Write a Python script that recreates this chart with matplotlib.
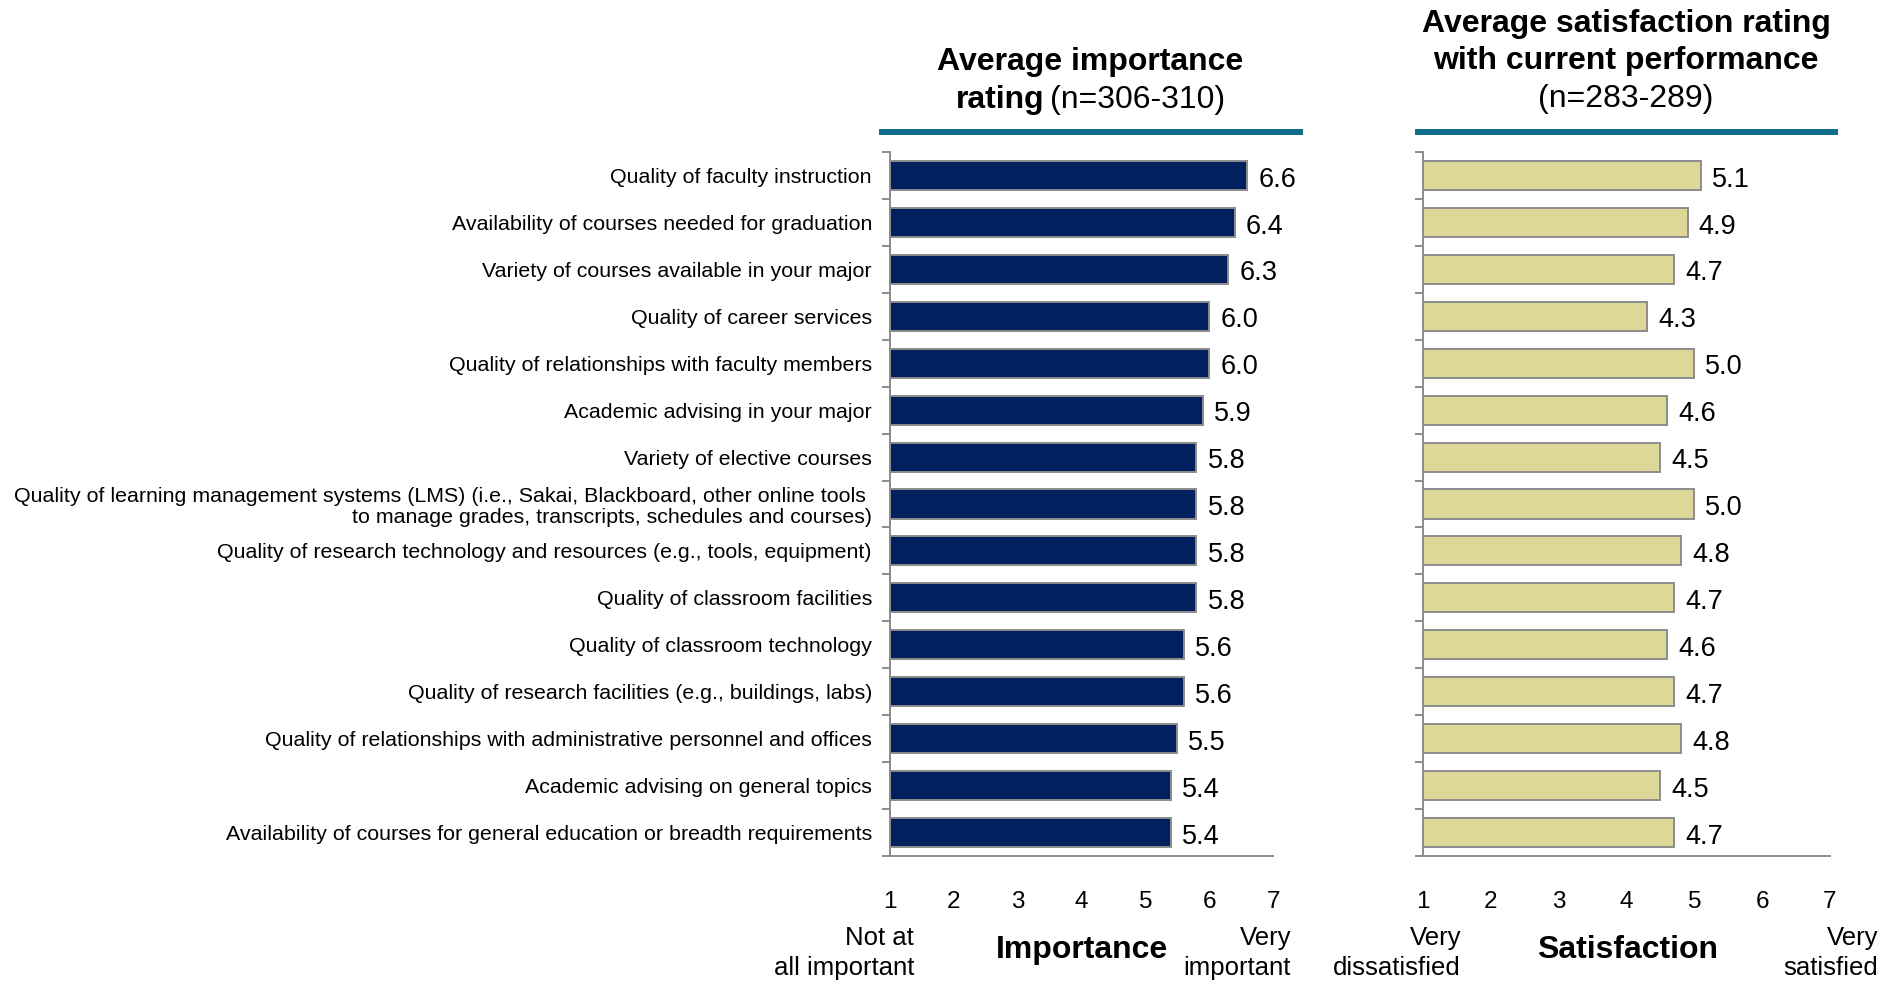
import matplotlib
matplotlib.use("Agg")
import matplotlib.pyplot as plt
import numpy as np

# fuente tipo Arial
plt.rcParams['font.family'] = ['Liberation Sans', 'DejaVu Sans']

categorias = [
    "Quality of faculty instruction",
    "Availability of courses needed for graduation",
    "Variety of courses available in your major",
    "Quality of career services",
    "Quality of relationships with faculty members",
    "Academic advising in your major",
    "Variety of elective courses",
    "Quality of learning management systems (LMS) (i.e., Sakai, Blackboard, other online tools \n"
    "to manage grades, transcripts, schedules and courses)",
    "Quality of research technology and resources (e.g., tools, equipment)",
    "Quality of classroom facilities",
    "Quality of classroom technology",
    "Quality of research facilities (e.g., buildings, labs)",
    "Quality of relationships with administrative personnel and offices",
    "Academic advising on general topics",
    "Availability of courses for general education or breadth requirements",
]
importancia = [6.6, 6.4, 6.3, 6.0, 6.0, 5.9, 5.8, 5.8, 5.8, 5.8, 5.6, 5.6, 5.5, 5.4, 5.4]
satisfaccion = [5.1, 4.9, 4.7, 4.3, 5.0, 4.6, 4.5, 5.0, 4.8, 4.7, 4.6, 4.7, 4.8, 4.5, 4.7]
escala = [1, 2, 3, 4, 5, 6, 7]

W, H = 1900, 983
gris = '#8c8c8c'
azul = '#02205e'
beige = '#ddd898'
teal = '#0f6e8b'

fig = plt.figure(figsize=(19, 9.83), dpi=100)

def fx(x):
    return x / W

def fy(y):
    return 1 - y / H

ax1 = fig.add_axes([fx(890), fy(856), 383 / W, 704 / H])
ax2 = fig.add_axes([fx(1423), fy(856), 407 / W, 704 / H])

pos = np.arange(len(categorias))

for ax, valores, color in [(ax1, importancia, azul), (ax2, satisfaccion, beige)]:
    v = np.array(valores)
    barras = ax.barh(pos, v - 1, left=1, height=0.62, color=color,
                     edgecolor=gris, linewidth=1.4)
    etiquetas = ax.bar_label(barras, labels=[f"{x:.1f}" for x in valores],
                             padding=8, fontsize=19.5)
    for t in etiquetas:
        t.xyann = (8, -3)
    ax.set_xlim(1, 7)
    ax.set_ylim(len(categorias) - 0.5, -0.5)
    ax.set_xticks(escala)
    ax.set_xticklabels([str(e) for e in escala], fontsize=17.5)
    ax.tick_params(axis='x', length=0, pad=25)
    ax.set_yticks(np.arange(-0.5, len(categorias), 1), minor=True)
    ax.tick_params(axis='y', which='minor', length=6, width=1.4, color=gris,
                   direction='out')
    ax.spines['top'].set_visible(False)
    ax.spines['right'].set_visible(False)
    for s in ['left', 'bottom']:
        ax.spines[s].set_color(gris)
        ax.spines[s].set_linewidth(1.4)

ax1.set_yticks(pos)
ax1.set_yticklabels(categorias, fontsize=15.4)
ax1.tick_params(axis='y', which='major', length=0, pad=13)
for lbl in ax1.get_yticklabels():
    lbl.set_linespacing(1.12)
ax2.set_yticks(pos)
ax2.set_yticklabels([])
ax2.tick_params(axis='y', which='major', length=0)

# lineas teal debajo de los titulos
fig.add_artist(plt.Line2D([fx(882), fx(1300)], [fy(132), fy(132)],
                          transform=fig.transFigure, color=teal, lw=4.3))
fig.add_artist(plt.Line2D([fx(1418), fx(1835)], [fy(132), fy(132)],
                          transform=fig.transFigure, color=teal, lw=4.3))

# titulos
ts = 23
fig.text(fx(1090), fy(70), "Average importance", ha='center', va='baseline',
         fontsize=ts, fontweight='bold')
fig.text(fx(1044), fy(108), "rating", ha='right', va='baseline',
         fontsize=ts, fontweight='bold')
fig.text(fx(1050), fy(108), "(n=306-310)", ha='left', va='baseline',
         fontsize=ts)
fig.text(fx(1626), fy(32), "Average satisfaction rating", ha='center',
         va='baseline', fontsize=ts, fontweight='bold')
fig.text(fx(1626), fy(69), "with current performance", ha='center',
         va='baseline', fontsize=ts, fontweight='bold')
fig.text(fx(1626), fy(107), "(n=283-289)", ha='center', va='baseline',
         fontsize=ts)

# etiquetas de la escala
es = 18.5
fig.text(fx(914), fy(975), "Not at\nall important", ha='right', va='baseline',
         fontsize=es, linespacing=1.3)
fig.text(fx(1291), fy(975), "Very\nimportant", ha='right', va='baseline',
         fontsize=es, linespacing=1.3)
fig.text(fx(1461), fy(975), "Very\ndissatisfied", ha='right', va='baseline',
         fontsize=es, linespacing=1.3)
fig.text(fx(1878), fy(975), "Very\nsatisfied", ha='right', va='baseline',
         fontsize=es, linespacing=1.3)
fig.text(fx(1082), fy(950), "Importance", ha='center', va='center',
         fontsize=ts, fontweight='bold')
fig.text(fx(1628), fy(950), "Satisfaction", ha='center', va='center',
         fontsize=ts, fontweight='bold')

fig.savefig("out.png", dpi=100)
